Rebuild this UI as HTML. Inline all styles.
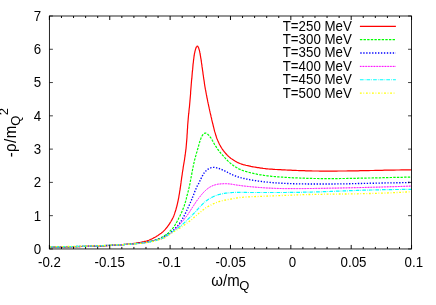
<!DOCTYPE html>
<html><head><meta charset="utf-8"><title>plot</title>
<style>
html,body{margin:0;padding:0;background:#fff;}
body{width:436px;height:305px;overflow:hidden;}
svg{display:block;}
#w{will-change:transform;width:436px;height:305px;}
text{font-family:"Liberation Sans",sans-serif;fill:#000;}
</style></head><body>
<div id="w">
<svg width="436" height="305" viewBox="0 0 436 305">
<rect width="436" height="305" fill="#fff"/>
<g fill="none" stroke-linejoin="round">
<path d="M49.4 247.4 L51.1 247.3 L52.7 247.3 L54.4 247.2 L56.1 247.1 L57.7 247.1 L59.4 247.0 L61.1 247.0 L62.8 247.0 L64.5 246.9 L66.2 246.9 L67.9 246.8 L69.6 246.8 L71.3 246.7 L73.0 246.7 L74.7 246.7 L76.4 246.6 L78.1 246.6 L79.8 246.6 L81.5 246.5 L83.3 246.5 L85.0 246.4 L86.7 246.4 L88.4 246.3 L90.2 246.3 L91.9 246.2 L93.6 246.2 L95.3 246.1 L97.1 246.1 L98.8 246.0 L100.5 245.9 L102.3 245.9 L104.0 245.8 L105.7 245.7 L107.4 245.6 L109.2 245.5 L110.9 245.4 L112.6 245.3 L114.4 245.2 L116.1 245.1 L117.8 245.0 L119.5 244.9 L121.3 244.7 L123.0 244.6 L124.7 244.4 L126.4 244.3 L128.0 244.1 L129.7 243.9 L131.3 243.8 L132.8 243.6 L134.4 243.4 L135.9 243.2 L137.4 242.9 L138.8 242.7 L140.1 242.5 L141.5 242.2 L142.7 241.9 L143.9 241.7 L145.0 241.4 L146.1 241.1 L147.1 240.8 L148.0 240.5 L148.9 240.2 L149.7 239.8 L150.5 239.5 L151.3 239.1 L152.1 238.8 L152.8 238.4 L153.5 238.0 L154.2 237.6 L154.9 237.3 L155.6 236.9 L156.3 236.5 L156.9 236.1 L157.6 235.7 L158.2 235.3 L158.8 234.8 L159.5 234.4 L160.0 234.0 L160.6 233.6 L161.2 233.2 L161.7 232.8 L162.2 232.3 L162.8 231.9 L163.3 231.4 L163.8 230.9 L164.3 230.4 L164.8 229.8 L165.3 229.3 L165.8 228.7 L166.3 228.1 L166.8 227.5 L167.3 226.9 L167.8 226.2 L168.2 225.6 L168.7 225.0 L169.1 224.4 L169.5 223.8 L169.9 223.2 L170.2 222.6 L170.6 222.0 L170.9 221.5 L171.2 220.9 L171.6 220.4 L171.9 219.9 L172.1 219.4 L172.4 218.9 L172.7 218.3 L173.0 217.8 L173.2 217.2 L173.5 216.6 L173.8 215.9 L174.0 215.2 L174.3 214.5 L174.6 213.7 L174.8 212.9 L175.1 212.1 L175.4 211.3 L175.6 210.5 L175.9 209.7 L176.1 208.8 L176.3 208.0 L176.6 207.1 L176.8 206.3 L177.0 205.5 L177.2 204.6 L177.4 203.8 L177.6 202.9 L177.8 202.0 L178.0 201.1 L178.2 200.2 L178.4 199.2 L178.6 198.2 L178.8 197.3 L178.9 196.3 L179.1 195.2 L179.3 194.2 L179.5 193.1 L179.6 192.0 L179.8 190.9 L180.0 189.8 L180.2 188.7 L180.3 187.6 L180.5 186.4 L180.7 185.2 L180.8 184.1 L181.0 182.9 L181.1 181.7 L181.3 180.5 L181.5 179.3 L181.6 178.1 L181.8 176.9 L182.0 175.7 L182.2 174.5 L182.3 173.3 L182.5 172.0 L182.7 170.9 L182.9 169.7 L183.1 168.5 L183.2 167.3 L183.4 166.1 L183.6 165.0 L183.8 163.8 L184.0 162.6 L184.2 161.5 L184.4 160.3 L184.6 159.2 L184.7 158.0 L184.9 156.9 L185.1 155.7 L185.2 154.6 L185.4 153.4 L185.5 152.3 L185.7 151.1 L185.8 149.9 L186.0 148.8 L186.1 147.6 L186.2 146.5 L186.3 145.3 L186.4 144.1 L186.5 142.9 L186.6 141.8 L186.7 140.6 L186.8 139.4 L186.9 138.2 L187.0 137.0 L187.0 135.8 L187.1 134.6 L187.2 133.4 L187.3 132.2 L187.3 131.0 L187.4 129.8 L187.5 128.6 L187.6 127.4 L187.6 126.2 L187.7 125.0 L187.8 123.8 L187.9 122.6 L188.0 121.4 L188.1 120.2 L188.2 119.0 L188.3 117.9 L188.4 116.7 L188.5 115.5 L188.6 114.3 L188.8 113.2 L188.9 112.0 L189.0 110.8 L189.1 109.7 L189.2 108.5 L189.4 107.3 L189.5 106.2 L189.6 105.0 L189.7 103.9 L189.8 102.7 L189.9 101.6 L190.0 100.4 L190.1 99.3 L190.2 98.1 L190.3 97.0 L190.4 95.8 L190.5 94.7 L190.6 93.5 L190.6 92.3 L190.7 91.1 L190.8 89.9 L190.9 88.7 L191.0 87.5 L191.1 86.2 L191.2 85.0 L191.3 83.7 L191.4 82.5 L191.5 81.2 L191.6 79.9 L191.8 78.7 L191.9 77.4 L192.0 76.1 L192.1 74.9 L192.2 73.6 L192.3 72.4 L192.4 71.1 L192.6 69.9 L192.7 68.7 L192.8 67.5 L192.9 66.3 L193.0 65.1 L193.1 63.9 L193.3 62.8 L193.4 61.7 L193.5 60.6 L193.6 59.6 L193.8 58.5 L193.9 57.5 L194.0 56.6 L194.2 55.7 L194.3 54.8 L194.4 53.9 L194.6 53.1 L194.8 52.3 L194.9 51.6 L195.1 50.8 L195.3 50.1 L195.5 49.4 L195.7 48.7 L196.0 48.1 L196.2 47.4 L196.5 46.9 L196.8 46.5 L197.0 46.2 L197.3 46.1 L197.6 46.2 L197.9 46.5 L198.1 46.9 L198.4 47.5 L198.7 48.1 L198.9 48.8 L199.1 49.5 L199.3 50.2 L199.5 50.9 L199.7 51.6 L199.8 52.4 L200.0 53.2 L200.1 54.0 L200.3 54.9 L200.4 55.8 L200.6 56.7 L200.7 57.6 L200.9 58.6 L201.1 59.7 L201.2 60.7 L201.4 61.8 L201.5 62.9 L201.7 64.1 L201.9 65.2 L202.0 66.4 L202.2 67.6 L202.4 68.8 L202.5 70.0 L202.7 71.2 L202.9 72.4 L203.0 73.6 L203.2 74.8 L203.4 76.0 L203.5 77.2 L203.7 78.5 L203.9 79.7 L204.1 80.9 L204.3 82.1 L204.4 83.3 L204.6 84.5 L204.8 85.8 L205.0 87.0 L205.2 88.2 L205.4 89.4 L205.7 90.6 L205.9 91.8 L206.1 93.0 L206.3 94.2 L206.6 95.5 L206.8 96.6 L207.0 97.8 L207.3 99.0 L207.5 100.2 L207.7 101.4 L208.0 102.6 L208.2 103.7 L208.5 104.9 L208.7 106.1 L209.0 107.2 L209.2 108.4 L209.5 109.5 L209.7 110.7 L210.0 111.8 L210.2 112.9 L210.5 114.1 L210.8 115.2 L211.0 116.4 L211.3 117.6 L211.6 118.7 L211.8 119.9 L212.1 121.1 L212.4 122.3 L212.7 123.5 L213.0 124.7 L213.3 126.0 L213.6 127.2 L213.9 128.4 L214.2 129.6 L214.5 130.8 L214.8 131.9 L215.2 133.1 L215.5 134.2 L215.8 135.3 L216.2 136.4 L216.5 137.5 L216.9 138.5 L217.3 139.4 L217.7 140.4 L218.1 141.3 L218.5 142.2 L218.9 143.0 L219.3 143.9 L219.7 144.7 L220.2 145.5 L220.6 146.4 L221.1 147.2 L221.6 148.0 L222.1 148.8 L222.7 149.6 L223.2 150.3 L223.8 151.1 L224.4 151.9 L225.0 152.6 L225.6 153.3 L226.2 154.0 L226.8 154.7 L227.4 155.4 L228.1 156.0 L228.8 156.6 L229.4 157.1 L230.1 157.7 L230.7 158.2 L231.4 158.7 L232.1 159.1 L232.7 159.6 L233.4 160.0 L234.1 160.4 L234.7 160.8 L235.3 161.2 L236.0 161.6 L236.6 161.9 L237.3 162.3 L237.9 162.6 L238.6 162.9 L239.3 163.2 L240.0 163.5 L240.8 163.8 L241.6 164.1 L242.4 164.3 L243.2 164.6 L244.1 164.8 L245.0 165.0 L245.9 165.3 L246.8 165.5 L247.8 165.7 L248.8 165.9 L249.8 166.1 L250.9 166.4 L251.9 166.6 L253.0 166.8 L254.1 167.0 L255.2 167.2 L256.3 167.4 L257.5 167.6 L258.6 167.7 L259.7 167.9 L260.8 168.1 L262.0 168.2 L263.1 168.4 L264.2 168.5 L265.3 168.6 L266.4 168.8 L267.5 168.9 L268.6 169.0 L269.8 169.1 L270.9 169.1 L272.0 169.2 L273.2 169.3 L274.3 169.4 L275.5 169.5 L276.8 169.5 L278.0 169.6 L279.3 169.7 L280.6 169.7 L282.0 169.8 L283.4 169.9 L284.8 169.9 L286.3 170.0 L287.8 170.1 L289.3 170.2 L290.9 170.2 L292.5 170.3 L294.1 170.4 L295.7 170.4 L297.4 170.5 L299.1 170.6 L300.8 170.6 L302.5 170.7 L304.2 170.7 L305.9 170.8 L307.7 170.8 L309.4 170.9 L311.2 170.9 L312.9 171.0 L314.7 171.0 L316.5 171.0 L318.2 171.0 L320.0 171.1 L321.8 171.1 L323.6 171.1 L325.4 171.1 L327.2 171.1 L329.1 171.1 L330.9 171.1 L332.8 171.1 L334.6 171.1 L336.5 171.1 L338.4 171.0 L340.3 171.0 L342.2 171.0 L344.1 171.0 L346.1 171.0 L348.0 170.9 L350.0 170.9 L352.0 170.9 L354.0 170.8 L356.1 170.8 L358.1 170.8 L360.2 170.7 L362.3 170.7 L364.4 170.6 L366.5 170.6 L368.7 170.6 L370.9 170.5 L373.1 170.5 L375.3 170.4 L377.6 170.4 L379.8 170.3 L382.1 170.3 L384.5 170.2 L386.8 170.2 L389.2 170.1 L391.6 170.1 L394.0 170.1 L396.5 170.0 L399.0 170.0 L401.5 169.9 L404.1 169.9 L406.7 169.8 L409.3 169.8 L411.5 169.8" stroke="#ff0000" stroke-width="1.2"/>
<path d="M49.4 247.3 L50.7 247.3 L51.9 247.2 L53.2 247.2 L54.5 247.2 L55.7 247.1 L57.0 247.1 L58.3 247.1 L59.6 247.0 L60.8 247.0 L62.1 247.0 L63.4 246.9 L64.7 246.9 L66.0 246.9 L67.3 246.8 L68.6 246.8 L69.9 246.8 L71.2 246.7 L72.5 246.7 L73.8 246.7 L75.1 246.6 L76.4 246.6 L77.7 246.6 L79.0 246.5 L80.3 246.5 L81.6 246.5 L82.9 246.4 L84.2 246.4 L85.5 246.3 L86.8 246.3 L88.1 246.3 L89.4 246.2 L90.8 246.2 L92.1 246.1 L93.4 246.1 L94.7 246.1 L96.0 246.0 L97.3 246.0 L98.6 245.9 L100.0 245.9 L101.3 245.8 L102.6 245.8 L103.9 245.7 L105.2 245.6 L106.5 245.6 L107.9 245.5 L109.2 245.4 L110.5 245.4 L111.8 245.3 L113.1 245.2 L114.4 245.2 L115.7 245.1 L117.1 245.0 L118.4 244.9 L119.7 244.9 L121.0 244.8 L122.3 244.7 L123.6 244.6 L124.9 244.5 L126.2 244.4 L127.4 244.3 L128.7 244.2 L129.9 244.1 L131.1 244.0 L132.3 243.9 L133.5 243.8 L134.6 243.7 L135.8 243.6 L136.9 243.5 L137.9 243.3 L139.0 243.2 L140.0 243.1 L140.9 243.0 L141.9 242.9 L142.8 242.7 L143.6 242.6 L144.4 242.5 L145.2 242.4 L145.9 242.2 L146.6 242.1 L147.3 242.0 L147.9 241.8 L148.5 241.7 L149.1 241.5 L149.7 241.4 L150.3 241.3 L150.8 241.1 L151.4 241.0 L151.9 240.8 L152.5 240.7 L153.1 240.5 L153.7 240.4 L154.3 240.2 L154.9 240.0 L155.5 239.9 L156.1 239.7 L156.7 239.5 L157.3 239.3 L157.9 239.1 L158.4 238.9 L159.0 238.6 L159.6 238.4 L160.2 238.1 L160.7 237.8 L161.3 237.6 L161.8 237.3 L162.3 237.0 L162.8 236.7 L163.2 236.4 L163.7 236.1 L164.1 235.8 L164.5 235.6 L164.9 235.4 L165.2 235.2 L165.5 235.0 L165.8 234.9 L166.1 234.7 L166.4 234.5 L166.7 234.3 L167.0 234.1 L167.3 233.8 L167.6 233.5 L168.0 233.2 L168.4 232.8 L168.8 232.4 L169.2 232.0 L169.6 231.6 L169.9 231.2 L170.3 230.8 L170.7 230.4 L171.0 230.1 L171.3 229.8 L171.6 229.5 L171.8 229.3 L172.1 229.0 L172.3 228.8 L172.6 228.5 L172.8 228.2 L173.1 227.9 L173.4 227.5 L173.7 227.1 L174.0 226.6 L174.3 226.2 L174.6 225.6 L175.0 225.1 L175.3 224.5 L175.7 223.9 L176.0 223.3 L176.4 222.7 L176.7 222.1 L177.1 221.5 L177.4 220.8 L177.7 220.2 L178.1 219.6 L178.4 218.9 L178.7 218.3 L179.0 217.7 L179.4 217.1 L179.7 216.4 L180.0 215.8 L180.3 215.2 L180.5 214.6 L180.8 214.0 L181.1 213.4 L181.4 212.8 L181.7 212.2 L181.9 211.6 L182.2 211.0 L182.4 210.4 L182.7 209.8 L182.9 209.2 L183.2 208.6 L183.4 208.0 L183.6 207.4 L183.8 206.8 L184.1 206.2 L184.3 205.6 L184.5 204.9 L184.7 204.3 L184.9 203.6 L185.1 203.0 L185.3 202.3 L185.5 201.7 L185.7 201.0 L185.8 200.3 L186.0 199.6 L186.2 199.0 L186.4 198.3 L186.5 197.6 L186.7 197.0 L186.9 196.3 L187.0 195.7 L187.2 195.1 L187.4 194.5 L187.5 193.9 L187.7 193.3 L187.8 192.7 L188.0 192.1 L188.1 191.5 L188.3 190.9 L188.4 190.3 L188.6 189.6 L188.8 188.9 L188.9 188.2 L189.1 187.5 L189.3 186.7 L189.4 185.9 L189.6 185.1 L189.8 184.3 L190.0 183.4 L190.1 182.5 L190.3 181.6 L190.5 180.6 L190.7 179.7 L190.9 178.7 L191.0 177.8 L191.2 176.8 L191.4 175.9 L191.6 174.9 L191.8 174.0 L191.9 173.1 L192.1 172.1 L192.3 171.3 L192.4 170.4 L192.6 169.5 L192.8 168.7 L192.9 167.9 L193.1 167.2 L193.2 166.4 L193.4 165.7 L193.5 164.9 L193.7 164.2 L193.8 163.5 L194.0 162.8 L194.1 162.1 L194.3 161.4 L194.4 160.7 L194.6 160.0 L194.8 159.3 L195.0 158.6 L195.2 157.9 L195.4 157.1 L195.6 156.4 L195.8 155.7 L196.0 154.9 L196.2 154.2 L196.4 153.4 L196.6 152.7 L196.9 151.9 L197.1 151.2 L197.3 150.5 L197.5 149.7 L197.7 149.0 L197.9 148.3 L198.1 147.6 L198.3 146.9 L198.5 146.2 L198.7 145.6 L198.8 144.9 L199.0 144.3 L199.2 143.6 L199.4 143.0 L199.6 142.4 L199.7 141.8 L199.9 141.2 L200.1 140.7 L200.3 140.1 L200.5 139.5 L200.7 139.0 L200.9 138.5 L201.1 137.9 L201.3 137.4 L201.6 137.0 L201.8 136.5 L202.0 136.0 L202.3 135.6 L202.6 135.2 L202.8 134.8 L203.1 134.5 L203.4 134.1 L203.7 133.9 L204.0 133.6 L204.3 133.4 L204.6 133.2 L204.9 133.1 L205.3 133.1 L205.6 133.1 L206.0 133.2 L206.3 133.3 L206.7 133.5 L207.0 133.7 L207.4 134.0 L207.7 134.2 L208.0 134.5 L208.3 134.8 L208.6 135.1 L208.9 135.4 L209.2 135.7 L209.5 136.1 L209.8 136.5 L210.1 136.9 L210.4 137.3 L210.7 137.7 L211.1 138.2 L211.4 138.8 L211.7 139.3 L212.1 139.9 L212.4 140.5 L212.8 141.2 L213.2 141.8 L213.6 142.5 L213.9 143.2 L214.3 143.9 L214.7 144.6 L215.1 145.2 L215.5 145.9 L216.0 146.6 L216.4 147.2 L216.8 147.9 L217.2 148.5 L217.6 149.1 L218.1 149.7 L218.5 150.3 L218.9 150.9 L219.3 151.4 L219.8 152.0 L220.2 152.5 L220.7 153.0 L221.1 153.6 L221.6 154.1 L222.1 154.6 L222.5 155.2 L223.0 155.7 L223.5 156.2 L224.0 156.8 L224.5 157.3 L225.0 157.9 L225.5 158.4 L226.0 159.0 L226.5 159.5 L227.0 160.0 L227.6 160.6 L228.1 161.1 L228.7 161.6 L229.2 162.1 L229.8 162.6 L230.3 163.1 L230.9 163.6 L231.5 164.1 L232.1 164.6 L232.7 165.0 L233.3 165.5 L233.9 165.9 L234.5 166.3 L235.1 166.7 L235.7 167.1 L236.3 167.5 L237.0 167.8 L237.6 168.2 L238.2 168.5 L238.8 168.9 L239.5 169.2 L240.1 169.4 L240.7 169.7 L241.4 170.0 L242.0 170.2 L242.6 170.5 L243.3 170.7 L243.9 170.9 L244.6 171.1 L245.3 171.3 L245.9 171.5 L246.6 171.7 L247.3 171.9 L248.0 172.1 L248.8 172.3 L249.5 172.5 L250.3 172.7 L251.0 172.8 L251.8 173.0 L252.6 173.2 L253.5 173.4 L254.3 173.6 L255.1 173.8 L256.0 173.9 L256.8 174.1 L257.7 174.3 L258.6 174.4 L259.4 174.6 L260.3 174.8 L261.2 174.9 L262.0 175.1 L262.9 175.2 L263.7 175.3 L264.6 175.5 L265.4 175.6 L266.3 175.7 L267.1 175.8 L268.0 175.9 L268.8 176.0 L269.7 176.1 L270.5 176.2 L271.4 176.3 L272.2 176.4 L273.1 176.5 L274.0 176.5 L274.9 176.6 L275.8 176.7 L276.7 176.8 L277.7 176.8 L278.6 176.9 L279.6 177.0 L280.6 177.0 L281.7 177.1 L282.7 177.2 L283.8 177.2 L284.9 177.3 L286.0 177.4 L287.2 177.4 L288.3 177.5 L289.5 177.6 L290.7 177.6 L291.9 177.7 L293.1 177.8 L294.3 177.8 L295.6 177.9 L296.8 177.9 L298.1 178.0 L299.4 178.0 L300.7 178.1 L302.0 178.1 L303.3 178.2 L304.6 178.2 L305.9 178.3 L307.2 178.3 L308.6 178.4 L309.9 178.4 L311.2 178.4 L312.6 178.5 L313.9 178.5 L315.2 178.5 L316.6 178.5 L317.9 178.5 L319.3 178.6 L320.7 178.6 L322.0 178.6 L323.4 178.6 L324.8 178.6 L326.1 178.6 L327.5 178.6 L328.9 178.6 L330.3 178.6 L331.7 178.6 L333.1 178.6 L334.6 178.6 L336.0 178.6 L337.4 178.6 L338.9 178.6 L340.3 178.5 L341.8 178.5 L343.2 178.5 L344.7 178.5 L346.2 178.5 L347.7 178.4 L349.2 178.4 L350.7 178.4 L352.2 178.4 L353.7 178.3 L355.3 178.3 L356.8 178.3 L358.4 178.2 L360.0 178.2 L361.6 178.2 L363.2 178.1 L364.8 178.1 L366.4 178.1 L368.1 178.0 L369.7 178.0 L371.4 178.0 L373.0 177.9 L374.7 177.9 L376.4 177.8 L378.2 177.8 L379.9 177.8 L381.6 177.7 L383.4 177.7 L385.2 177.6 L387.0 177.6 L388.8 177.6 L390.6 177.5 L392.5 177.5 L394.3 177.4 L396.2 177.4 L398.1 177.4 L400.0 177.3 L401.9 177.3 L403.9 177.2 L405.8 177.2 L407.8 177.2 L409.8 177.1 L411.5 177.1" stroke="#00ff00" stroke-width="1.2" stroke-dasharray="2.4 1.23"/>
<path d="M49.4 247.2 L50.5 247.2 L51.6 247.1 L52.7 247.1 L53.8 247.1 L54.9 247.1 L56.0 247.0 L57.1 247.0 L58.2 247.0 L59.3 247.0 L60.4 246.9 L61.5 246.9 L62.7 246.9 L63.8 246.8 L64.9 246.8 L66.0 246.8 L67.2 246.8 L68.3 246.7 L69.4 246.7 L70.6 246.7 L71.7 246.7 L72.8 246.6 L74.0 246.6 L75.1 246.6 L76.3 246.5 L77.4 246.5 L78.6 246.5 L79.7 246.5 L80.9 246.4 L82.0 246.4 L83.2 246.4 L84.3 246.3 L85.5 246.3 L86.6 246.3 L87.8 246.2 L88.9 246.2 L90.1 246.1 L91.2 246.1 L92.4 246.1 L93.6 246.0 L94.7 246.0 L95.9 245.9 L97.0 245.9 L98.2 245.9 L99.3 245.8 L100.5 245.8 L101.6 245.7 L102.8 245.7 L103.9 245.6 L105.1 245.6 L106.2 245.5 L107.4 245.5 L108.5 245.4 L109.7 245.4 L110.8 245.3 L111.9 245.3 L113.1 245.2 L114.2 245.1 L115.4 245.1 L116.5 245.0 L117.6 245.0 L118.8 244.9 L119.9 244.8 L121.0 244.7 L122.1 244.7 L123.2 244.6 L124.3 244.5 L125.4 244.5 L126.5 244.4 L127.6 244.3 L128.7 244.2 L129.7 244.1 L130.8 244.1 L131.8 244.0 L132.8 243.9 L133.9 243.8 L134.8 243.7 L135.8 243.6 L136.8 243.5 L137.7 243.4 L138.6 243.3 L139.5 243.2 L140.4 243.1 L141.3 243.0 L142.1 242.9 L142.9 242.8 L143.7 242.7 L144.5 242.6 L145.2 242.5 L145.9 242.3 L146.6 242.2 L147.3 242.1 L147.9 242.0 L148.5 241.9 L149.2 241.7 L149.8 241.6 L150.4 241.5 L150.9 241.3 L151.5 241.2 L152.1 241.1 L152.7 240.9 L153.2 240.8 L153.8 240.6 L154.4 240.5 L154.9 240.3 L155.5 240.2 L156.1 240.0 L156.7 239.9 L157.3 239.7 L157.8 239.5 L158.4 239.4 L158.9 239.2 L159.5 239.0 L160.0 238.9 L160.5 238.7 L160.9 238.5 L161.4 238.3 L161.8 238.2 L162.2 238.0 L162.5 237.8 L162.9 237.7 L163.2 237.5 L163.5 237.3 L163.7 237.2 L164.0 237.0 L164.3 236.8 L164.6 236.6 L164.9 236.4 L165.2 236.2 L165.6 235.9 L165.9 235.7 L166.3 235.4 L166.7 235.2 L167.1 234.9 L167.6 234.6 L168.0 234.4 L168.4 234.1 L168.8 233.8 L169.2 233.5 L169.6 233.3 L170.0 233.0 L170.4 232.7 L170.7 232.5 L171.1 232.2 L171.4 231.9 L171.7 231.7 L172.1 231.4 L172.4 231.1 L172.7 230.8 L173.0 230.6 L173.4 230.2 L173.7 229.9 L174.0 229.6 L174.4 229.2 L174.8 228.8 L175.2 228.4 L175.6 228.0 L176.0 227.6 L176.4 227.1 L176.8 226.7 L177.2 226.2 L177.6 225.8 L178.0 225.3 L178.3 224.8 L178.7 224.4 L179.1 223.9 L179.5 223.4 L179.8 223.0 L180.1 222.5 L180.5 222.1 L180.8 221.7 L181.1 221.2 L181.3 220.8 L181.6 220.4 L181.9 220.0 L182.1 219.5 L182.4 219.1 L182.6 218.7 L182.9 218.2 L183.1 217.8 L183.4 217.4 L183.6 216.9 L183.8 216.4 L184.1 216.0 L184.3 215.5 L184.6 215.0 L184.8 214.5 L185.1 214.1 L185.3 213.6 L185.5 213.1 L185.8 212.6 L186.0 212.0 L186.3 211.5 L186.5 211.0 L186.8 210.5 L187.0 209.9 L187.3 209.4 L187.5 208.9 L187.8 208.3 L188.0 207.8 L188.3 207.2 L188.5 206.7 L188.8 206.2 L189.0 205.6 L189.3 205.1 L189.5 204.6 L189.7 204.0 L190.0 203.5 L190.2 203.0 L190.4 202.5 L190.6 202.0 L190.9 201.5 L191.1 201.0 L191.3 200.5 L191.5 200.0 L191.7 199.5 L191.9 199.1 L192.1 198.6 L192.3 198.1 L192.5 197.6 L192.6 197.2 L192.8 196.7 L193.0 196.2 L193.2 195.7 L193.4 195.2 L193.6 194.7 L193.8 194.2 L194.0 193.7 L194.2 193.2 L194.4 192.6 L194.6 192.1 L194.8 191.6 L195.0 191.1 L195.2 190.5 L195.4 190.0 L195.7 189.5 L195.9 189.0 L196.1 188.5 L196.3 188.1 L196.5 187.6 L196.7 187.2 L196.9 186.7 L197.1 186.3 L197.3 185.9 L197.5 185.5 L197.7 185.2 L197.9 184.8 L198.1 184.4 L198.3 184.0 L198.6 183.7 L198.8 183.3 L199.0 182.9 L199.1 182.5 L199.3 182.1 L199.5 181.7 L199.7 181.3 L199.9 180.9 L200.1 180.5 L200.3 180.1 L200.5 179.7 L200.7 179.3 L200.9 178.9 L201.1 178.4 L201.3 178.0 L201.6 177.6 L201.8 177.1 L202.0 176.7 L202.2 176.2 L202.4 175.8 L202.7 175.4 L202.9 174.9 L203.2 174.5 L203.4 174.1 L203.7 173.7 L204.0 173.2 L204.2 172.8 L204.5 172.4 L204.9 172.1 L205.2 171.7 L205.5 171.3 L205.9 171.0 L206.2 170.6 L206.6 170.3 L206.9 170.0 L207.3 169.7 L207.7 169.4 L208.1 169.2 L208.5 168.9 L208.8 168.7 L209.2 168.5 L209.6 168.3 L210.0 168.1 L210.4 168.0 L210.8 167.8 L211.2 167.7 L211.6 167.6 L212.0 167.5 L212.4 167.5 L212.8 167.4 L213.2 167.4 L213.6 167.4 L214.0 167.4 L214.4 167.4 L214.8 167.5 L215.3 167.6 L215.7 167.6 L216.1 167.7 L216.5 167.8 L216.9 167.9 L217.4 168.0 L217.8 168.1 L218.2 168.3 L218.6 168.4 L219.0 168.5 L219.4 168.6 L219.8 168.8 L220.2 168.9 L220.6 169.1 L221.1 169.3 L221.5 169.4 L221.9 169.6 L222.3 169.8 L222.8 170.0 L223.3 170.2 L223.7 170.4 L224.2 170.7 L224.7 170.9 L225.2 171.2 L225.7 171.4 L226.2 171.7 L226.8 172.0 L227.3 172.2 L227.8 172.5 L228.4 172.8 L228.9 173.1 L229.4 173.3 L230.0 173.6 L230.5 173.9 L231.1 174.1 L231.6 174.4 L232.2 174.6 L232.7 174.9 L233.3 175.1 L233.8 175.3 L234.3 175.6 L234.9 175.8 L235.5 176.0 L236.0 176.2 L236.6 176.4 L237.1 176.6 L237.7 176.8 L238.3 177.0 L238.9 177.2 L239.5 177.4 L240.1 177.5 L240.7 177.7 L241.4 177.9 L242.0 178.0 L242.6 178.2 L243.3 178.3 L244.0 178.5 L244.6 178.7 L245.3 178.8 L246.0 178.9 L246.7 179.1 L247.4 179.2 L248.1 179.4 L248.8 179.5 L249.5 179.6 L250.3 179.8 L251.0 179.9 L251.7 180.0 L252.5 180.1 L253.2 180.3 L254.0 180.4 L254.7 180.5 L255.5 180.6 L256.2 180.8 L257.0 180.9 L257.8 181.0 L258.6 181.1 L259.4 181.2 L260.2 181.3 L261.0 181.4 L261.8 181.5 L262.7 181.7 L263.5 181.8 L264.4 181.9 L265.3 182.0 L266.2 182.1 L267.1 182.1 L268.0 182.2 L269.0 182.3 L270.0 182.4 L270.9 182.5 L271.9 182.6 L273.0 182.7 L274.0 182.7 L275.1 182.8 L276.1 182.9 L277.2 183.0 L278.3 183.0 L279.5 183.1 L280.6 183.2 L281.7 183.2 L282.9 183.3 L284.1 183.3 L285.3 183.4 L286.5 183.4 L287.7 183.5 L288.9 183.5 L290.1 183.6 L291.3 183.6 L292.6 183.7 L293.8 183.7 L295.1 183.7 L296.3 183.8 L297.6 183.8 L298.8 183.8 L300.1 183.8 L301.4 183.9 L302.6 183.9 L303.9 183.9 L305.1 183.9 L306.4 184.0 L307.7 184.0 L308.9 184.0 L310.2 184.0 L311.4 184.0 L312.6 184.0 L313.9 184.0 L315.1 184.0 L316.3 184.0 L317.5 184.0 L318.8 184.0 L320.0 184.0 L321.2 184.0 L322.4 184.0 L323.6 184.0 L324.8 184.0 L326.0 184.0 L327.3 184.0 L328.5 184.0 L329.7 184.0 L330.9 184.0 L332.1 184.0 L333.3 184.0 L334.5 184.0 L335.7 183.9 L337.0 183.9 L338.2 183.9 L339.4 183.9 L340.7 183.9 L341.9 183.8 L343.1 183.8 L344.4 183.8 L345.6 183.8 L346.9 183.8 L348.2 183.7 L349.4 183.7 L350.7 183.7 L352.0 183.7 L353.3 183.6 L354.6 183.6 L355.9 183.6 L357.2 183.6 L358.5 183.5 L359.9 183.5 L361.2 183.5 L362.6 183.4 L364.0 183.4 L365.3 183.4 L366.7 183.3 L368.1 183.3 L369.5 183.3 L371.0 183.2 L372.4 183.2 L373.9 183.2 L375.3 183.2 L376.8 183.1 L378.3 183.1 L379.8 183.1 L381.3 183.0 L382.9 183.0 L384.4 183.0 L386.0 182.9 L387.6 182.9 L389.2 182.9 L390.8 182.8 L392.5 182.8 L394.1 182.8 L395.8 182.7 L397.5 182.7 L399.2 182.7 L401.0 182.7 L402.7 182.6 L404.5 182.6 L406.3 182.6 L408.1 182.5 L409.9 182.5 L411.5 182.5" stroke="#0000ff" stroke-width="1.35" stroke-dasharray="1.35 1.6" stroke-dashoffset="2.55"/>
<path d="M49.4 247.1 L50.4 247.1 L51.4 247.1 L52.3 247.0 L53.3 247.0 L54.3 247.0 L55.3 247.0 L56.3 247.0 L57.3 246.9 L58.3 246.9 L59.3 246.9 L60.3 246.9 L61.3 246.8 L62.3 246.8 L63.3 246.8 L64.3 246.8 L65.3 246.8 L66.3 246.7 L67.3 246.7 L68.4 246.7 L69.4 246.7 L70.4 246.6 L71.4 246.6 L72.5 246.6 L73.5 246.6 L74.5 246.5 L75.5 246.5 L76.6 246.5 L77.6 246.5 L78.6 246.4 L79.6 246.4 L80.7 246.4 L81.7 246.3 L82.7 246.3 L83.8 246.3 L84.8 246.2 L85.9 246.2 L86.9 246.2 L87.9 246.2 L89.0 246.1 L90.0 246.1 L91.0 246.1 L92.1 246.0 L93.1 246.0 L94.1 245.9 L95.2 245.9 L96.2 245.9 L97.3 245.8 L98.3 245.8 L99.3 245.8 L100.4 245.7 L101.4 245.7 L102.4 245.6 L103.5 245.6 L104.5 245.5 L105.5 245.5 L106.6 245.5 L107.6 245.4 L108.6 245.4 L109.6 245.3 L110.7 245.3 L111.7 245.2 L112.7 245.2 L113.7 245.1 L114.8 245.1 L115.8 245.0 L116.8 245.0 L117.8 244.9 L118.8 244.9 L119.8 244.8 L120.8 244.7 L121.9 244.7 L122.9 244.6 L123.8 244.6 L124.8 244.5 L125.8 244.4 L126.8 244.4 L127.8 244.3 L128.7 244.2 L129.7 244.2 L130.6 244.1 L131.6 244.0 L132.5 244.0 L133.4 243.9 L134.3 243.8 L135.2 243.7 L136.0 243.7 L136.9 243.6 L137.7 243.5 L138.6 243.4 L139.4 243.3 L140.2 243.2 L140.9 243.1 L141.7 243.1 L142.4 243.0 L143.2 242.9 L143.9 242.8 L144.5 242.7 L145.2 242.6 L145.8 242.5 L146.5 242.4 L147.1 242.2 L147.6 242.1 L148.2 242.0 L148.8 241.9 L149.3 241.8 L149.9 241.7 L150.4 241.6 L150.9 241.4 L151.4 241.3 L152.0 241.2 L152.5 241.1 L153.0 240.9 L153.5 240.8 L154.0 240.7 L154.5 240.5 L155.0 240.4 L155.6 240.3 L156.1 240.1 L156.6 240.0 L157.1 239.9 L157.6 239.7 L158.2 239.6 L158.7 239.5 L159.1 239.3 L159.6 239.2 L160.1 239.1 L160.5 238.9 L160.9 238.8 L161.4 238.7 L161.7 238.6 L162.1 238.4 L162.4 238.3 L162.7 238.2 L163.0 238.1 L163.3 238.0 L163.5 237.9 L163.8 237.8 L164.0 237.6 L164.3 237.5 L164.6 237.3 L164.9 237.2 L165.2 237.0 L165.5 236.8 L165.9 236.6 L166.3 236.3 L166.7 236.1 L167.1 235.8 L167.5 235.5 L167.9 235.2 L168.4 234.9 L168.8 234.6 L169.3 234.3 L169.8 234.0 L170.2 233.6 L170.7 233.3 L171.2 232.9 L171.6 232.5 L172.1 232.2 L172.5 231.8 L173.0 231.4 L173.4 231.0 L173.8 230.6 L174.3 230.2 L174.7 229.8 L175.1 229.4 L175.5 229.0 L175.9 228.6 L176.3 228.2 L176.7 227.8 L177.0 227.4 L177.4 227.0 L177.8 226.6 L178.2 226.1 L178.5 225.7 L178.9 225.3 L179.3 224.9 L179.7 224.4 L180.0 224.0 L180.4 223.6 L180.8 223.2 L181.2 222.7 L181.6 222.3 L181.9 221.9 L182.3 221.4 L182.7 221.0 L183.1 220.6 L183.5 220.1 L183.8 219.7 L184.2 219.2 L184.6 218.7 L185.0 218.3 L185.3 217.8 L185.7 217.3 L186.1 216.8 L186.5 216.4 L186.8 215.9 L187.2 215.4 L187.6 214.9 L187.9 214.3 L188.3 213.8 L188.6 213.3 L189.0 212.8 L189.3 212.2 L189.7 211.7 L190.0 211.2 L190.4 210.6 L190.7 210.1 L191.1 209.5 L191.4 209.0 L191.8 208.4 L192.1 207.9 L192.5 207.3 L192.8 206.8 L193.2 206.2 L193.5 205.7 L193.9 205.2 L194.2 204.6 L194.6 204.1 L194.9 203.6 L195.3 203.1 L195.6 202.5 L196.0 202.0 L196.3 201.5 L196.7 201.0 L197.0 200.5 L197.4 200.0 L197.7 199.6 L198.1 199.1 L198.4 198.6 L198.8 198.2 L199.1 197.7 L199.5 197.2 L199.8 196.8 L200.2 196.4 L200.5 196.0 L200.8 195.5 L201.2 195.1 L201.5 194.7 L201.8 194.3 L202.2 194.0 L202.5 193.6 L202.8 193.2 L203.1 192.9 L203.4 192.5 L203.8 192.2 L204.1 191.9 L204.4 191.5 L204.7 191.2 L205.0 190.9 L205.3 190.6 L205.6 190.4 L205.9 190.1 L206.2 189.8 L206.5 189.5 L206.8 189.3 L207.1 189.0 L207.4 188.8 L207.7 188.6 L208.0 188.3 L208.4 188.1 L208.7 187.9 L209.0 187.7 L209.3 187.5 L209.7 187.2 L210.0 187.0 L210.4 186.8 L210.8 186.6 L211.1 186.4 L211.5 186.2 L211.9 186.1 L212.3 185.9 L212.7 185.7 L213.2 185.5 L213.6 185.4 L214.0 185.2 L214.4 185.1 L214.9 184.9 L215.3 184.8 L215.7 184.7 L216.1 184.6 L216.6 184.5 L217.0 184.4 L217.4 184.3 L217.9 184.2 L218.3 184.1 L218.7 184.1 L219.1 184.0 L219.6 184.0 L220.0 183.9 L220.4 183.9 L220.8 183.9 L221.2 183.8 L221.7 183.8 L222.1 183.8 L222.5 183.8 L222.9 183.8 L223.4 183.7 L223.8 183.7 L224.2 183.7 L224.6 183.7 L225.1 183.7 L225.5 183.7 L225.9 183.7 L226.4 183.7 L226.8 183.7 L227.2 183.8 L227.6 183.8 L228.1 183.8 L228.5 183.8 L228.9 183.9 L229.4 183.9 L229.8 184.0 L230.3 184.0 L230.7 184.1 L231.1 184.1 L231.5 184.2 L232.0 184.3 L232.4 184.3 L232.8 184.4 L233.2 184.5 L233.6 184.5 L234.0 184.6 L234.4 184.7 L234.8 184.7 L235.2 184.8 L235.6 184.9 L236.0 184.9 L236.4 185.0 L236.8 185.0 L237.2 185.1 L237.6 185.2 L238.1 185.2 L238.5 185.3 L239.0 185.4 L239.5 185.4 L240.0 185.5 L240.5 185.6 L241.0 185.6 L241.6 185.7 L242.2 185.8 L242.8 185.9 L243.4 185.9 L244.1 186.0 L244.7 186.1 L245.4 186.2 L246.1 186.2 L246.8 186.3 L247.5 186.4 L248.2 186.5 L248.9 186.5 L249.7 186.6 L250.4 186.7 L251.2 186.8 L252.0 186.8 L252.8 186.9 L253.6 187.0 L254.4 187.1 L255.2 187.1 L256.0 187.2 L256.8 187.3 L257.6 187.3 L258.4 187.4 L259.2 187.5 L260.0 187.5 L260.9 187.6 L261.7 187.6 L262.5 187.7 L263.4 187.8 L264.2 187.8 L265.1 187.9 L265.9 187.9 L266.7 188.0 L267.6 188.0 L268.5 188.1 L269.3 188.1 L270.2 188.1 L271.1 188.2 L271.9 188.2 L272.8 188.3 L273.7 188.3 L274.6 188.3 L275.4 188.4 L276.3 188.4 L277.2 188.4 L278.1 188.4 L279.0 188.5 L279.9 188.5 L280.8 188.5 L281.7 188.5 L282.6 188.6 L283.5 188.6 L284.4 188.6 L285.4 188.6 L286.3 188.6 L287.2 188.6 L288.1 188.6 L289.0 188.6 L290.0 188.6 L290.9 188.6 L291.9 188.6 L292.8 188.6 L293.7 188.6 L294.7 188.6 L295.7 188.6 L296.6 188.6 L297.6 188.6 L298.5 188.6 L299.5 188.6 L300.5 188.6 L301.5 188.6 L302.4 188.6 L303.4 188.6 L304.4 188.6 L305.4 188.6 L306.4 188.5 L307.4 188.5 L308.4 188.5 L309.4 188.5 L310.4 188.5 L311.4 188.5 L312.5 188.5 L313.5 188.5 L314.5 188.4 L315.6 188.4 L316.6 188.4 L317.6 188.4 L318.7 188.4 L319.7 188.4 L320.8 188.3 L321.9 188.3 L322.9 188.3 L324.0 188.3 L325.1 188.3 L326.2 188.3 L327.2 188.2 L328.3 188.2 L329.4 188.2 L330.5 188.2 L331.7 188.2 L332.8 188.1 L333.9 188.1 L335.0 188.1 L336.1 188.1 L337.3 188.1 L338.4 188.0 L339.6 188.0 L340.7 188.0 L341.9 188.0 L343.1 187.9 L344.2 187.9 L345.4 187.9 L346.6 187.9 L347.8 187.8 L349.0 187.8 L350.2 187.8 L351.4 187.8 L352.6 187.7 L353.8 187.7 L355.1 187.7 L356.3 187.7 L357.5 187.6 L358.8 187.6 L360.0 187.6 L361.3 187.5 L362.6 187.5 L363.8 187.5 L365.1 187.4 L366.4 187.4 L367.7 187.4 L369.0 187.3 L370.3 187.3 L371.6 187.3 L373.0 187.2 L374.3 187.2 L375.6 187.2 L377.0 187.1 L378.3 187.1 L379.7 187.1 L381.1 187.0 L382.5 187.0 L383.8 186.9 L385.2 186.9 L386.6 186.9 L388.1 186.8 L389.5 186.8 L390.9 186.7 L392.3 186.7 L393.8 186.7 L395.2 186.6 L396.7 186.6 L398.2 186.5 L399.6 186.5 L401.1 186.4 L402.6 186.4 L404.1 186.3 L405.6 186.3 L407.1 186.2 L408.7 186.2 L410.2 186.1 L411.5 186.1" stroke="#ff00ff" stroke-opacity="0.3" stroke-width="1.0"/>
<path d="M49.4 247.1 L50.4 247.1 L51.4 247.1 L52.3 247.0 L53.3 247.0 L54.3 247.0 L55.3 247.0 L56.3 247.0 L57.3 246.9 L58.3 246.9 L59.3 246.9 L60.3 246.9 L61.3 246.8 L62.3 246.8 L63.3 246.8 L64.3 246.8 L65.3 246.8 L66.3 246.7 L67.3 246.7 L68.4 246.7 L69.4 246.7 L70.4 246.6 L71.4 246.6 L72.5 246.6 L73.5 246.6 L74.5 246.5 L75.5 246.5 L76.6 246.5 L77.6 246.5 L78.6 246.4 L79.6 246.4 L80.7 246.4 L81.7 246.3 L82.7 246.3 L83.8 246.3 L84.8 246.2 L85.9 246.2 L86.9 246.2 L87.9 246.2 L89.0 246.1 L90.0 246.1 L91.0 246.1 L92.1 246.0 L93.1 246.0 L94.1 245.9 L95.2 245.9 L96.2 245.9 L97.3 245.8 L98.3 245.8 L99.3 245.8 L100.4 245.7 L101.4 245.7 L102.4 245.6 L103.5 245.6 L104.5 245.5 L105.5 245.5 L106.6 245.5 L107.6 245.4 L108.6 245.4 L109.6 245.3 L110.7 245.3 L111.7 245.2 L112.7 245.2 L113.7 245.1 L114.8 245.1 L115.8 245.0 L116.8 245.0 L117.8 244.9 L118.8 244.9 L119.8 244.8 L120.8 244.7 L121.9 244.7 L122.9 244.6 L123.8 244.6 L124.8 244.5 L125.8 244.4 L126.8 244.4 L127.8 244.3 L128.7 244.2 L129.7 244.2 L130.6 244.1 L131.6 244.0 L132.5 244.0 L133.4 243.9 L134.3 243.8 L135.2 243.7 L136.0 243.7 L136.9 243.6 L137.7 243.5 L138.6 243.4 L139.4 243.3 L140.2 243.2 L140.9 243.1 L141.7 243.1 L142.4 243.0 L143.2 242.9 L143.9 242.8 L144.5 242.7 L145.2 242.6 L145.8 242.5 L146.5 242.4 L147.1 242.2 L147.6 242.1 L148.2 242.0 L148.8 241.9 L149.3 241.8 L149.9 241.7 L150.4 241.6 L150.9 241.4 L151.4 241.3 L152.0 241.2 L152.5 241.1 L153.0 240.9 L153.5 240.8 L154.0 240.7 L154.5 240.5 L155.0 240.4 L155.6 240.3 L156.1 240.1 L156.6 240.0 L157.1 239.9 L157.6 239.7 L158.2 239.6 L158.7 239.5 L159.1 239.3 L159.6 239.2 L160.1 239.1 L160.5 238.9 L160.9 238.8 L161.4 238.7 L161.7 238.6 L162.1 238.4 L162.4 238.3 L162.7 238.2 L163.0 238.1 L163.3 238.0 L163.5 237.9 L163.8 237.8 L164.0 237.6 L164.3 237.5 L164.6 237.3 L164.9 237.2 L165.2 237.0 L165.5 236.8 L165.9 236.6 L166.3 236.3 L166.7 236.1 L167.1 235.8 L167.5 235.5 L167.9 235.2 L168.4 234.9 L168.8 234.6 L169.3 234.3 L169.8 234.0 L170.2 233.6 L170.7 233.3 L171.2 232.9 L171.6 232.5 L172.1 232.2 L172.5 231.8 L173.0 231.4 L173.4 231.0 L173.8 230.6 L174.3 230.2 L174.7 229.8 L175.1 229.4 L175.5 229.0 L175.9 228.6 L176.3 228.2 L176.7 227.8 L177.0 227.4 L177.4 227.0 L177.8 226.6 L178.2 226.1 L178.5 225.7 L178.9 225.3 L179.3 224.9 L179.7 224.4 L180.0 224.0 L180.4 223.6 L180.8 223.2 L181.2 222.7 L181.6 222.3 L181.9 221.9 L182.3 221.4 L182.7 221.0 L183.1 220.6 L183.5 220.1 L183.8 219.7 L184.2 219.2 L184.6 218.7 L185.0 218.3 L185.3 217.8 L185.7 217.3 L186.1 216.8 L186.5 216.4 L186.8 215.9 L187.2 215.4 L187.6 214.9 L187.9 214.3 L188.3 213.8 L188.6 213.3 L189.0 212.8 L189.3 212.2 L189.7 211.7 L190.0 211.2 L190.4 210.6 L190.7 210.1 L191.1 209.5 L191.4 209.0 L191.8 208.4 L192.1 207.9 L192.5 207.3 L192.8 206.8 L193.2 206.2 L193.5 205.7 L193.9 205.2 L194.2 204.6 L194.6 204.1 L194.9 203.6 L195.3 203.1 L195.6 202.5 L196.0 202.0 L196.3 201.5 L196.7 201.0 L197.0 200.5 L197.4 200.0 L197.7 199.6 L198.1 199.1 L198.4 198.6 L198.8 198.2 L199.1 197.7 L199.5 197.2 L199.8 196.8 L200.2 196.4 L200.5 196.0 L200.8 195.5 L201.2 195.1 L201.5 194.7 L201.8 194.3 L202.2 194.0 L202.5 193.6 L202.8 193.2 L203.1 192.9 L203.4 192.5 L203.8 192.2 L204.1 191.9 L204.4 191.5 L204.7 191.2 L205.0 190.9 L205.3 190.6 L205.6 190.4 L205.9 190.1 L206.2 189.8 L206.5 189.5 L206.8 189.3 L207.1 189.0 L207.4 188.8 L207.7 188.6 L208.0 188.3 L208.4 188.1 L208.7 187.9 L209.0 187.7 L209.3 187.5 L209.7 187.2 L210.0 187.0 L210.4 186.8 L210.8 186.6 L211.1 186.4 L211.5 186.2 L211.9 186.1 L212.3 185.9 L212.7 185.7 L213.2 185.5 L213.6 185.4 L214.0 185.2 L214.4 185.1 L214.9 184.9 L215.3 184.8 L215.7 184.7 L216.1 184.6 L216.6 184.5 L217.0 184.4 L217.4 184.3 L217.9 184.2 L218.3 184.1 L218.7 184.1 L219.1 184.0 L219.6 184.0 L220.0 183.9 L220.4 183.9 L220.8 183.9 L221.2 183.8 L221.7 183.8 L222.1 183.8 L222.5 183.8 L222.9 183.8 L223.4 183.7 L223.8 183.7 L224.2 183.7 L224.6 183.7 L225.1 183.7 L225.5 183.7 L225.9 183.7 L226.4 183.7 L226.8 183.7 L227.2 183.8 L227.6 183.8 L228.1 183.8 L228.5 183.8 L228.9 183.9 L229.4 183.9 L229.8 184.0 L230.3 184.0 L230.7 184.1 L231.1 184.1 L231.5 184.2 L232.0 184.3 L232.4 184.3 L232.8 184.4 L233.2 184.5 L233.6 184.5 L234.0 184.6 L234.4 184.7 L234.8 184.7 L235.2 184.8 L235.6 184.9 L236.0 184.9 L236.4 185.0 L236.8 185.0 L237.2 185.1 L237.6 185.2 L238.1 185.2 L238.5 185.3 L239.0 185.4 L239.5 185.4 L240.0 185.5 L240.5 185.6 L241.0 185.6 L241.6 185.7 L242.2 185.8 L242.8 185.9 L243.4 185.9 L244.1 186.0 L244.7 186.1 L245.4 186.2 L246.1 186.2 L246.8 186.3 L247.5 186.4 L248.2 186.5 L248.9 186.5 L249.7 186.6 L250.4 186.7 L251.2 186.8 L252.0 186.8 L252.8 186.9 L253.6 187.0 L254.4 187.1 L255.2 187.1 L256.0 187.2 L256.8 187.3 L257.6 187.3 L258.4 187.4 L259.2 187.5 L260.0 187.5 L260.9 187.6 L261.7 187.6 L262.5 187.7 L263.4 187.8 L264.2 187.8 L265.1 187.9 L265.9 187.9 L266.7 188.0 L267.6 188.0 L268.5 188.1 L269.3 188.1 L270.2 188.1 L271.1 188.2 L271.9 188.2 L272.8 188.3 L273.7 188.3 L274.6 188.3 L275.4 188.4 L276.3 188.4 L277.2 188.4 L278.1 188.4 L279.0 188.5 L279.9 188.5 L280.8 188.5 L281.7 188.5 L282.6 188.6 L283.5 188.6 L284.4 188.6 L285.4 188.6 L286.3 188.6 L287.2 188.6 L288.1 188.6 L289.0 188.6 L290.0 188.6 L290.9 188.6 L291.9 188.6 L292.8 188.6 L293.7 188.6 L294.7 188.6 L295.7 188.6 L296.6 188.6 L297.6 188.6 L298.5 188.6 L299.5 188.6 L300.5 188.6 L301.5 188.6 L302.4 188.6 L303.4 188.6 L304.4 188.6 L305.4 188.6 L306.4 188.5 L307.4 188.5 L308.4 188.5 L309.4 188.5 L310.4 188.5 L311.4 188.5 L312.5 188.5 L313.5 188.5 L314.5 188.4 L315.6 188.4 L316.6 188.4 L317.6 188.4 L318.7 188.4 L319.7 188.4 L320.8 188.3 L321.9 188.3 L322.9 188.3 L324.0 188.3 L325.1 188.3 L326.2 188.3 L327.2 188.2 L328.3 188.2 L329.4 188.2 L330.5 188.2 L331.7 188.2 L332.8 188.1 L333.9 188.1 L335.0 188.1 L336.1 188.1 L337.3 188.1 L338.4 188.0 L339.6 188.0 L340.7 188.0 L341.9 188.0 L343.1 187.9 L344.2 187.9 L345.4 187.9 L346.6 187.9 L347.8 187.8 L349.0 187.8 L350.2 187.8 L351.4 187.8 L352.6 187.7 L353.8 187.7 L355.1 187.7 L356.3 187.7 L357.5 187.6 L358.8 187.6 L360.0 187.6 L361.3 187.5 L362.6 187.5 L363.8 187.5 L365.1 187.4 L366.4 187.4 L367.7 187.4 L369.0 187.3 L370.3 187.3 L371.6 187.3 L373.0 187.2 L374.3 187.2 L375.6 187.2 L377.0 187.1 L378.3 187.1 L379.7 187.1 L381.1 187.0 L382.5 187.0 L383.8 186.9 L385.2 186.9 L386.6 186.9 L388.1 186.8 L389.5 186.8 L390.9 186.7 L392.3 186.7 L393.8 186.7 L395.2 186.6 L396.7 186.6 L398.2 186.5 L399.6 186.5 L401.1 186.4 L402.6 186.4 L404.1 186.3 L405.6 186.3 L407.1 186.2 L408.7 186.2 L410.2 186.1 L411.5 186.1" stroke="#ff00ff" stroke-width="1.0" stroke-dasharray="1.5 1.25"/>
<path d="M49.4 247.0 L50.3 247.0 L51.3 247.0 L52.2 246.9 L53.1 246.9 L54.1 246.9 L55.0 246.9 L56.0 246.9 L56.9 246.9 L57.9 246.8 L58.8 246.8 L59.8 246.8 L60.8 246.8 L61.7 246.8 L62.7 246.7 L63.6 246.7 L64.6 246.7 L65.6 246.7 L66.5 246.7 L67.5 246.6 L68.5 246.6 L69.5 246.6 L70.4 246.6 L71.4 246.5 L72.4 246.5 L73.4 246.5 L74.4 246.5 L75.3 246.4 L76.3 246.4 L77.3 246.4 L78.3 246.4 L79.3 246.3 L80.3 246.3 L81.2 246.3 L82.2 246.3 L83.2 246.2 L84.2 246.2 L85.2 246.2 L86.2 246.1 L87.2 246.1 L88.2 246.1 L89.2 246.1 L90.2 246.0 L91.1 246.0 L92.1 246.0 L93.1 245.9 L94.1 245.9 L95.1 245.9 L96.1 245.8 L97.1 245.8 L98.1 245.8 L99.1 245.7 L100.1 245.7 L101.0 245.6 L102.0 245.6 L103.0 245.6 L104.0 245.5 L105.0 245.5 L106.0 245.4 L107.0 245.4 L108.0 245.4 L108.9 245.3 L109.9 245.3 L110.9 245.2 L111.9 245.2 L112.9 245.1 L113.8 245.1 L114.8 245.0 L115.8 245.0 L116.8 244.9 L117.7 244.9 L118.7 244.8 L119.7 244.8 L120.6 244.7 L121.6 244.7 L122.5 244.6 L123.5 244.6 L124.5 244.5 L125.4 244.4 L126.3 244.4 L127.3 244.3 L128.2 244.3 L129.1 244.2 L130.0 244.1 L130.9 244.1 L131.8 244.0 L132.7 243.9 L133.5 243.9 L134.4 243.8 L135.2 243.7 L136.1 243.7 L136.9 243.6 L137.7 243.5 L138.5 243.5 L139.3 243.4 L140.0 243.3 L140.8 243.2 L141.5 243.1 L142.2 243.1 L142.9 243.0 L143.6 242.9 L144.2 242.8 L144.9 242.7 L145.5 242.6 L146.1 242.5 L146.7 242.5 L147.3 242.4 L147.8 242.3 L148.4 242.2 L148.9 242.1 L149.4 242.0 L149.9 241.9 L150.4 241.7 L151.0 241.6 L151.4 241.5 L151.9 241.4 L152.4 241.3 L152.9 241.2 L153.4 241.0 L153.9 240.9 L154.4 240.8 L154.9 240.7 L155.4 240.5 L155.9 240.4 L156.4 240.2 L156.9 240.1 L157.4 239.9 L157.9 239.8 L158.3 239.6 L158.8 239.5 L159.3 239.4 L159.7 239.2 L160.2 239.1 L160.6 238.9 L161.0 238.8 L161.4 238.7 L161.7 238.6 L162.1 238.4 L162.4 238.3 L162.7 238.2 L162.9 238.1 L163.2 238.0 L163.5 237.9 L163.7 237.8 L163.9 237.7 L164.2 237.6 L164.5 237.4 L164.7 237.3 L165.0 237.1 L165.3 236.9 L165.6 236.7 L166.0 236.5 L166.4 236.2 L166.7 235.9 L167.1 235.7 L167.5 235.4 L167.9 235.1 L168.4 234.8 L168.8 234.5 L169.2 234.2 L169.7 233.8 L170.1 233.5 L170.6 233.2 L171.0 232.9 L171.5 232.5 L171.9 232.2 L172.4 231.9 L172.8 231.6 L173.3 231.3 L173.7 231.0 L174.1 230.7 L174.6 230.4 L175.0 230.1 L175.4 229.9 L175.8 229.6 L176.2 229.3 L176.6 229.0 L177.0 228.7 L177.4 228.5 L177.8 228.2 L178.2 227.9 L178.6 227.6 L179.0 227.3 L179.4 227.0 L179.8 226.7 L180.2 226.4 L180.6 226.1 L180.9 225.8 L181.3 225.4 L181.7 225.1 L182.1 224.8 L182.5 224.4 L182.9 224.1 L183.3 223.7 L183.6 223.4 L184.0 223.0 L184.4 222.7 L184.8 222.3 L185.2 221.9 L185.6 221.6 L186.0 221.2 L186.4 220.8 L186.8 220.4 L187.1 220.1 L187.5 219.7 L187.9 219.3 L188.3 218.9 L188.7 218.5 L189.1 218.1 L189.5 217.7 L189.9 217.4 L190.3 217.0 L190.7 216.6 L191.1 216.2 L191.5 215.8 L191.8 215.4 L192.2 215.0 L192.6 214.7 L193.0 214.3 L193.3 213.9 L193.7 213.5 L194.1 213.2 L194.4 212.8 L194.7 212.4 L195.1 212.1 L195.4 211.7 L195.8 211.4 L196.1 211.0 L196.4 210.7 L196.7 210.3 L197.0 210.0 L197.4 209.6 L197.7 209.3 L198.0 209.0 L198.3 208.6 L198.6 208.3 L198.9 207.9 L199.3 207.6 L199.6 207.3 L199.9 206.9 L200.2 206.6 L200.5 206.2 L200.9 205.9 L201.2 205.5 L201.5 205.2 L201.9 204.8 L202.2 204.5 L202.5 204.2 L202.8 203.8 L203.2 203.5 L203.5 203.2 L203.8 202.9 L204.1 202.6 L204.4 202.4 L204.7 202.1 L204.9 201.9 L205.2 201.6 L205.5 201.4 L205.7 201.2 L206.0 201.0 L206.2 200.8 L206.4 200.7 L206.7 200.5 L206.9 200.3 L207.2 200.2 L207.5 200.0 L207.7 199.8 L208.0 199.6 L208.3 199.4 L208.6 199.3 L208.9 199.1 L209.3 198.9 L209.6 198.7 L209.9 198.5 L210.3 198.2 L210.7 198.0 L211.0 197.8 L211.4 197.6 L211.8 197.4 L212.2 197.2 L212.6 197.0 L212.9 196.8 L213.3 196.6 L213.7 196.5 L214.1 196.3 L214.5 196.1 L214.9 195.9 L215.3 195.8 L215.7 195.6 L216.1 195.5 L216.5 195.3 L217.0 195.2 L217.4 195.0 L217.8 194.9 L218.2 194.7 L218.6 194.6 L219.0 194.5 L219.5 194.4 L219.9 194.3 L220.3 194.2 L220.8 194.1 L221.2 194.0 L221.6 193.9 L222.1 193.8 L222.5 193.7 L223.0 193.6 L223.4 193.5 L223.9 193.4 L224.4 193.4 L224.8 193.3 L225.3 193.2 L225.8 193.2 L226.3 193.1 L226.7 193.0 L227.2 193.0 L227.7 192.9 L228.2 192.9 L228.8 192.8 L229.3 192.8 L229.8 192.7 L230.3 192.7 L230.8 192.6 L231.3 192.6 L231.7 192.6 L232.2 192.5 L232.7 192.5 L233.1 192.5 L233.6 192.5 L234.0 192.4 L234.4 192.4 L234.8 192.4 L235.2 192.4 L235.5 192.4 L235.9 192.4 L236.2 192.4 L236.5 192.4 L236.9 192.4 L237.2 192.4 L237.5 192.4 L237.9 192.4 L238.3 192.4 L238.7 192.4 L239.1 192.4 L239.5 192.4 L240.0 192.4 L240.6 192.4 L241.2 192.4 L241.8 192.4 L242.4 192.4 L243.1 192.4 L243.8 192.4 L244.6 192.4 L245.4 192.4 L246.2 192.4 L247.0 192.5 L247.9 192.5 L248.8 192.5 L249.7 192.5 L250.7 192.5 L251.6 192.5 L252.6 192.5 L253.6 192.5 L254.6 192.5 L255.7 192.5 L256.7 192.5 L257.8 192.5 L258.9 192.5 L260.0 192.5 L261.0 192.5 L262.1 192.5 L263.3 192.5 L264.4 192.5 L265.5 192.5 L266.6 192.5 L267.7 192.5 L268.8 192.5 L270.0 192.5 L271.1 192.5 L272.2 192.5 L273.3 192.5 L274.4 192.5 L275.4 192.5 L276.5 192.5 L277.6 192.5 L278.7 192.5 L279.7 192.5 L280.8 192.5 L281.8 192.5 L282.9 192.5 L283.9 192.5 L285.0 192.5 L286.0 192.5 L287.0 192.4 L288.1 192.4 L289.1 192.4 L290.1 192.4 L291.1 192.4 L292.1 192.4 L293.1 192.4 L294.2 192.4 L295.2 192.4 L296.2 192.4 L297.2 192.3 L298.2 192.3 L299.2 192.3 L300.2 192.3 L301.2 192.3 L302.2 192.3 L303.2 192.2 L304.2 192.2 L305.2 192.2 L306.2 192.2 L307.2 192.2 L308.2 192.1 L309.2 192.1 L310.2 192.1 L311.2 192.1 L312.2 192.0 L313.2 192.0 L314.2 192.0 L315.2 192.0 L316.2 191.9 L317.2 191.9 L318.2 191.9 L319.3 191.8 L320.3 191.8 L321.3 191.8 L322.3 191.7 L323.4 191.7 L324.4 191.7 L325.4 191.6 L326.5 191.6 L327.5 191.5 L328.5 191.5 L329.6 191.5 L330.6 191.4 L331.7 191.4 L332.7 191.4 L333.8 191.3 L334.9 191.3 L335.9 191.2 L337.0 191.2 L338.1 191.2 L339.2 191.1 L340.3 191.1 L341.3 191.0 L342.4 191.0 L343.5 190.9 L344.6 190.9 L345.8 190.9 L346.9 190.8 L348.0 190.8 L349.1 190.7 L350.2 190.7 L351.4 190.6 L352.5 190.6 L353.7 190.6 L354.8 190.5 L356.0 190.5 L357.2 190.4 L358.3 190.4 L359.5 190.4 L360.7 190.3 L361.9 190.3 L363.1 190.2 L364.3 190.2 L365.5 190.2 L366.7 190.1 L368.0 190.1 L369.2 190.1 L370.4 190.0 L371.7 190.0 L372.9 190.0 L374.2 189.9 L375.5 189.9 L376.8 189.9 L378.1 189.8 L379.4 189.8 L380.7 189.8 L382.0 189.7 L383.3 189.7 L384.6 189.7 L386.0 189.7 L387.3 189.6 L388.7 189.6 L390.0 189.6 L391.4 189.6 L392.8 189.5 L394.2 189.5 L395.6 189.5 L397.0 189.5 L398.5 189.5 L399.9 189.5 L401.3 189.5 L402.8 189.4 L404.3 189.4 L405.7 189.4 L407.2 189.4 L408.7 189.4 L410.2 189.4 L411.5 189.4" stroke="#00ffff" stroke-width="1.2" stroke-dasharray="3.7 1.1 0.7 1.1"/>
<path d="M49.4 246.8 L50.4 246.8 L51.3 246.8 L52.3 246.8 L53.2 246.8 L54.2 246.8 L55.2 246.8 L56.1 246.7 L57.1 246.7 L58.1 246.7 L59.1 246.7 L60.0 246.7 L61.0 246.7 L62.0 246.6 L63.0 246.6 L64.0 246.6 L65.0 246.6 L66.0 246.6 L67.0 246.5 L67.9 246.5 L68.9 246.5 L69.9 246.5 L70.9 246.5 L71.9 246.4 L72.9 246.4 L73.9 246.4 L74.9 246.4 L76.0 246.3 L77.0 246.3 L78.0 246.3 L79.0 246.3 L80.0 246.2 L81.0 246.2 L82.0 246.2 L83.0 246.1 L84.0 246.1 L85.0 246.1 L86.1 246.1 L87.1 246.0 L88.1 246.0 L89.1 246.0 L90.1 245.9 L91.1 245.9 L92.1 245.9 L93.2 245.8 L94.2 245.8 L95.2 245.8 L96.2 245.7 L97.2 245.7 L98.2 245.7 L99.2 245.6 L100.3 245.6 L101.3 245.6 L102.3 245.5 L103.3 245.5 L104.3 245.4 L105.3 245.4 L106.3 245.4 L107.3 245.3 L108.3 245.3 L109.3 245.2 L110.3 245.2 L111.3 245.1 L112.3 245.1 L113.3 245.0 L114.3 245.0 L115.3 245.0 L116.3 244.9 L117.3 244.9 L118.3 244.8 L119.3 244.8 L120.3 244.7 L121.3 244.7 L122.3 244.6 L123.2 244.6 L124.2 244.5 L125.2 244.4 L126.1 244.4 L127.1 244.3 L128.0 244.3 L129.0 244.2 L129.9 244.2 L130.8 244.1 L131.7 244.0 L132.6 244.0 L133.5 243.9 L134.4 243.8 L135.3 243.8 L136.1 243.7 L137.0 243.6 L137.8 243.6 L138.6 243.5 L139.4 243.4 L140.2 243.4 L140.9 243.3 L141.7 243.2 L142.4 243.1 L143.1 243.0 L143.8 243.0 L144.4 242.9 L145.1 242.8 L145.7 242.7 L146.3 242.6 L146.9 242.5 L147.5 242.4 L148.1 242.3 L148.6 242.3 L149.2 242.2 L149.7 242.1 L150.2 241.9 L150.7 241.8 L151.3 241.7 L151.8 241.6 L152.3 241.5 L152.8 241.4 L153.3 241.3 L153.8 241.1 L154.3 241.0 L154.8 240.9 L155.3 240.7 L155.8 240.6 L156.3 240.5 L156.8 240.3 L157.3 240.2 L157.8 240.0 L158.3 239.9 L158.8 239.7 L159.3 239.6 L159.7 239.5 L160.2 239.3 L160.6 239.2 L161.0 239.1 L161.4 239.0 L161.8 238.8 L162.1 238.7 L162.4 238.6 L162.7 238.5 L163.0 238.4 L163.3 238.3 L163.5 238.2 L163.8 238.1 L164.0 238.0 L164.3 237.9 L164.6 237.7 L164.9 237.6 L165.2 237.4 L165.5 237.2 L165.8 237.0 L166.2 236.7 L166.6 236.5 L167.0 236.2 L167.4 235.9 L167.8 235.7 L168.3 235.4 L168.7 235.1 L169.2 234.7 L169.6 234.4 L170.1 234.1 L170.6 233.8 L171.0 233.5 L171.5 233.2 L172.0 232.9 L172.4 232.6 L172.9 232.3 L173.3 232.0 L173.8 231.7 L174.2 231.5 L174.7 231.2 L175.1 231.0 L175.5 230.7 L176.0 230.5 L176.4 230.2 L176.8 230.0 L177.2 229.7 L177.7 229.5 L178.1 229.2 L178.5 229.0 L178.9 228.7 L179.3 228.5 L179.7 228.2 L180.2 228.0 L180.6 227.7 L181.0 227.4 L181.4 227.2 L181.8 226.9 L182.2 226.6 L182.6 226.3 L183.1 226.0 L183.5 225.7 L183.9 225.4 L184.3 225.1 L184.7 224.8 L185.1 224.5 L185.6 224.2 L186.0 223.9 L186.4 223.5 L186.8 223.2 L187.2 222.9 L187.7 222.6 L188.1 222.2 L188.5 221.9 L188.9 221.6 L189.4 221.3 L189.8 220.9 L190.2 220.6 L190.6 220.3 L191.0 219.9 L191.4 219.6 L191.9 219.3 L192.3 218.9 L192.7 218.6 L193.1 218.3 L193.5 218.0 L193.8 217.6 L194.2 217.3 L194.6 217.0 L195.0 216.7 L195.3 216.4 L195.7 216.1 L196.1 215.8 L196.4 215.5 L196.8 215.2 L197.1 214.9 L197.4 214.6 L197.8 214.3 L198.1 214.0 L198.5 213.7 L198.8 213.4 L199.1 213.1 L199.5 212.8 L199.8 212.5 L200.2 212.2 L200.5 211.9 L200.9 211.7 L201.2 211.4 L201.6 211.1 L202.0 210.8 L202.3 210.5 L202.7 210.2 L203.0 209.9 L203.3 209.7 L203.7 209.4 L204.0 209.1 L204.3 208.9 L204.6 208.7 L204.9 208.5 L205.2 208.3 L205.5 208.1 L205.7 207.9 L206.0 207.7 L206.3 207.6 L206.5 207.4 L206.8 207.2 L207.0 207.1 L207.3 206.9 L207.6 206.8 L207.9 206.6 L208.2 206.5 L208.5 206.3 L208.8 206.1 L209.1 205.9 L209.5 205.7 L209.8 205.6 L210.2 205.4 L210.6 205.2 L211.0 205.0 L211.3 204.8 L211.7 204.6 L212.1 204.4 L212.5 204.2 L212.9 204.0 L213.3 203.8 L213.7 203.7 L214.1 203.5 L214.6 203.3 L215.0 203.1 L215.4 203.0 L215.8 202.8 L216.2 202.6 L216.6 202.5 L217.0 202.3 L217.5 202.2 L217.9 202.0 L218.3 201.9 L218.7 201.7 L219.2 201.6 L219.6 201.4 L220.0 201.3 L220.5 201.2 L220.9 201.1 L221.4 200.9 L221.8 200.8 L222.3 200.7 L222.7 200.6 L223.2 200.5 L223.7 200.4 L224.1 200.3 L224.6 200.2 L225.1 200.1 L225.6 200.0 L226.0 199.9 L226.5 199.8 L227.0 199.7 L227.6 199.6 L228.1 199.5 L228.6 199.4 L229.1 199.3 L229.6 199.2 L230.1 199.1 L230.6 199.1 L231.1 199.0 L231.6 198.9 L232.1 198.8 L232.6 198.7 L233.0 198.6 L233.5 198.6 L233.9 198.5 L234.4 198.4 L234.8 198.3 L235.1 198.3 L235.5 198.2 L235.9 198.1 L236.2 198.1 L236.5 198.0 L236.9 197.9 L237.2 197.9 L237.6 197.8 L237.9 197.8 L238.3 197.7 L238.7 197.7 L239.1 197.6 L239.6 197.5 L240.1 197.5 L240.6 197.4 L241.2 197.4 L241.8 197.3 L242.4 197.3 L243.1 197.2 L243.8 197.2 L244.5 197.1 L245.3 197.1 L246.1 197.0 L246.9 197.0 L247.7 196.9 L248.6 196.9 L249.4 196.8 L250.3 196.8 L251.2 196.7 L252.1 196.7 L253.0 196.7 L254.0 196.6 L254.9 196.6 L255.9 196.5 L256.8 196.5 L257.8 196.5 L258.7 196.4 L259.7 196.4 L260.6 196.3 L261.6 196.3 L262.5 196.3 L263.5 196.2 L264.4 196.2 L265.3 196.1 L266.3 196.1 L267.2 196.1 L268.1 196.0 L269.0 196.0 L269.9 196.0 L270.7 195.9 L271.6 195.9 L272.5 195.9 L273.3 195.8 L274.2 195.8 L275.0 195.8 L275.8 195.8 L276.7 195.7 L277.5 195.7 L278.3 195.7 L279.1 195.6 L279.9 195.6 L280.7 195.6 L281.5 195.5 L282.3 195.5 L283.1 195.5 L283.9 195.5 L284.7 195.4 L285.5 195.4 L286.2 195.4 L287.0 195.3 L287.8 195.3 L288.6 195.3 L289.3 195.2 L290.1 195.2 L290.9 195.2 L291.6 195.2 L292.4 195.1 L293.1 195.1 L293.9 195.1 L294.7 195.0 L295.4 195.0 L296.2 195.0 L297.0 194.9 L297.8 194.9 L298.5 194.9 L299.3 194.8 L300.1 194.8 L300.9 194.8 L301.7 194.8 L302.5 194.7 L303.4 194.7 L304.2 194.7 L305.0 194.6 L305.8 194.6 L306.7 194.6 L307.6 194.6 L308.4 194.5 L309.3 194.5 L310.2 194.5 L311.1 194.5 L312.0 194.5 L312.9 194.4 L313.9 194.4 L314.8 194.4 L315.8 194.4 L316.8 194.4 L317.7 194.3 L318.7 194.3 L319.7 194.3 L320.7 194.3 L321.8 194.3 L322.8 194.3 L323.8 194.2 L324.9 194.2 L325.9 194.2 L327.0 194.2 L328.1 194.2 L329.2 194.2 L330.3 194.2 L331.4 194.1 L332.5 194.1 L333.6 194.1 L334.8 194.1 L335.9 194.1 L337.0 194.1 L338.2 194.1 L339.4 194.0 L340.5 194.0 L341.7 194.0 L342.9 194.0 L344.1 194.0 L345.3 194.0 L346.5 194.0 L347.7 193.9 L349.0 193.9 L350.2 193.9 L351.4 193.9 L352.7 193.9 L353.9 193.8 L355.2 193.8 L356.4 193.8 L357.7 193.8 L359.0 193.7 L360.3 193.7 L361.5 193.7 L362.8 193.7 L364.1 193.6 L365.4 193.6 L366.7 193.6 L368.0 193.5 L369.4 193.5 L370.7 193.5 L372.0 193.4 L373.3 193.4 L374.7 193.4 L376.0 193.3 L377.3 193.3 L378.7 193.2 L380.0 193.2 L381.4 193.2 L382.7 193.1 L384.1 193.1 L385.5 193.0 L386.8 193.0 L388.2 192.9 L389.6 192.9 L390.9 192.8 L392.3 192.7 L393.7 192.7 L395.1 192.6 L396.4 192.5 L397.8 192.5 L399.2 192.4 L400.6 192.3 L402.0 192.3 L403.4 192.2 L404.8 192.1 L406.2 192.0 L407.5 191.9 L408.9 191.9 L410.3 191.8 L411.5 191.7" stroke="#ffff00" stroke-width="1.3" stroke-dasharray="1.8 1.7 0.8 1.75"/>
</g>
<g fill="none">
<path d="M359.9 26.30 H395.9" stroke="#ff0000" stroke-width="1.2"/>
<path d="M359.9 39.66 H395.9" stroke="#00ff00" stroke-width="1.2" stroke-dasharray="2.4 1.23"/>
<path d="M359.9 53.02 H395.9" stroke="#0000ff" stroke-width="1.35" stroke-dasharray="1.35 1.6" stroke-dashoffset="2.55"/>
<path d="M359.9 66.38 H395.9" stroke="#ff00ff" stroke-opacity="0.3" stroke-width="1.0"/>
<path d="M359.9 66.38 H395.9" stroke="#ff00ff" stroke-width="1.0" stroke-dasharray="1.5 1.25"/>
<path d="M359.9 79.74 H395.9" stroke="#00ffff" stroke-width="1.2" stroke-dasharray="3.7 1.1 0.7 1.1"/>
<path d="M359.9 93.10 H395.9" stroke="#ffff00" stroke-width="1.3" stroke-dasharray="1.8 1.7 0.8 1.75"/>
</g>
<g font-size="13.3" text-anchor="end">
<text transform="translate(351.80,31.00) scale(1,1.1)">T=250 MeV</text>
<text transform="translate(351.80,43.80) scale(1,1.1)">T=300 MeV</text>
<text transform="translate(351.80,57.40) scale(1,1.1)">T=350 MeV</text>
<text transform="translate(351.80,70.70) scale(1,1.1)">T=400 MeV</text>
<text transform="translate(351.80,83.90) scale(1,1.1)">T=450 MeV</text>
<text transform="translate(351.80,97.65) scale(1,1.1)">T=500 MeV</text>
</g>
<path d="M49.40 248.95 v-4.0 M49.40 16.0 v4.0 M61.47 248.95 v-2.0 M61.47 16.0 v2.0 M73.54 248.95 v-2.0 M73.54 16.0 v2.0 M85.62 248.95 v-2.0 M85.62 16.0 v2.0 M97.69 248.95 v-2.0 M97.69 16.0 v2.0 M109.76 248.95 v-4.0 M109.76 16.0 v4.0 M121.83 248.95 v-2.0 M121.83 16.0 v2.0 M133.90 248.95 v-2.0 M133.90 16.0 v2.0 M145.97 248.95 v-2.0 M145.97 16.0 v2.0 M158.05 248.95 v-2.0 M158.05 16.0 v2.0 M170.12 248.95 v-4.0 M170.12 16.0 v4.0 M182.19 248.95 v-2.0 M182.19 16.0 v2.0 M194.26 248.95 v-2.0 M194.26 16.0 v2.0 M206.33 248.95 v-2.0 M206.33 16.0 v2.0 M218.40 248.95 v-2.0 M218.40 16.0 v2.0 M230.48 248.95 v-4.0 M230.48 16.0 v4.0 M242.55 248.95 v-2.0 M242.55 16.0 v2.0 M254.62 248.95 v-2.0 M254.62 16.0 v2.0 M266.69 248.95 v-2.0 M266.69 16.0 v2.0 M278.76 248.95 v-2.0 M278.76 16.0 v2.0 M290.83 248.95 v-4.0 M290.83 16.0 v4.0 M302.91 248.95 v-2.0 M302.91 16.0 v2.0 M314.98 248.95 v-2.0 M314.98 16.0 v2.0 M327.05 248.95 v-2.0 M327.05 16.0 v2.0 M339.12 248.95 v-2.0 M339.12 16.0 v2.0 M351.19 248.95 v-4.0 M351.19 16.0 v4.0 M363.26 248.95 v-2.0 M363.26 16.0 v2.0 M375.33 248.95 v-2.0 M375.33 16.0 v2.0 M387.41 248.95 v-2.0 M387.41 16.0 v2.0 M399.48 248.95 v-2.0 M399.48 16.0 v2.0 M411.55 248.95 v-4.0 M411.55 16.0 v4.0" stroke="#000" stroke-width="0.95" fill="none"/>
<path d="M49.4 248.95 h3.5 M411.55 248.95 h-3.5 M49.4 215.67 h3.5 M411.55 215.67 h-3.5 M49.4 182.39 h3.5 M411.55 182.39 h-3.5 M49.4 149.11 h3.5 M411.55 149.11 h-3.5 M49.4 115.84 h3.5 M411.55 115.84 h-3.5 M49.4 82.56 h3.5 M411.55 82.56 h-3.5 M49.4 49.28 h3.5 M411.55 49.28 h-3.5 M49.4 16.00 h3.5 M411.55 16.00 h-3.5" stroke="#000" stroke-width="0.75" fill="none"/>
<rect x="49.4" y="16.0" width="362.15000000000003" height="232.95" fill="none" stroke="#000" stroke-width="0.85"/>
<g font-size="13.3" text-anchor="end">
<text transform="translate(41.20,253.85) scale(1,1.1)">0</text>
<text transform="translate(41.20,220.57) scale(1,1.1)">1</text>
<text transform="translate(41.20,187.29) scale(1,1.1)">2</text>
<text transform="translate(41.20,154.01) scale(1,1.1)">3</text>
<text transform="translate(41.20,120.74) scale(1,1.1)">4</text>
<text transform="translate(41.20,87.46) scale(1,1.1)">5</text>
<text transform="translate(41.20,54.18) scale(1,1.1)">6</text>
<text transform="translate(41.20,20.90) scale(1,1.1)">7</text>
</g>
<g font-size="13.3" text-anchor="middle">
<text transform="translate(49.40,267.30) scale(1,1.1)">-0.2</text>
<text transform="translate(109.76,267.30) scale(1,1.1)">-0.15</text>
<text transform="translate(169.52,267.30) scale(1,1.1)">-0.1</text>
<text transform="translate(230.67,267.30) scale(1,1.1)">-0.05</text>
<text transform="translate(292.53,267.30) scale(1,1.1)">0</text>
<text transform="translate(353.49,267.30) scale(1,1.1)">0.05</text>
<text transform="translate(413.85,267.30) scale(1,1.1)">0.1</text>
</g>
<g transform="translate(211.3,285.7) scale(1,1.07)"><text x="0" y="0" font-size="15">ω/m</text></g><text x="239.2" y="290.4" font-size="13">Q</text>
<g transform="translate(16,156) rotate(-90)"><g transform="scale(1,1.07)"><text y="0" font-size="15"><tspan x="-1.2">-</tspan><tspan x="3.9">ρ</tspan><tspan x="13.0">/</tspan><tspan x="17.7">m</tspan></text></g><text x="30.3" y="4.4" font-size="13">Q</text><text x="40.8" y="-7.7" font-size="13">2</text></g>
</svg>
</div>
</body></html>
